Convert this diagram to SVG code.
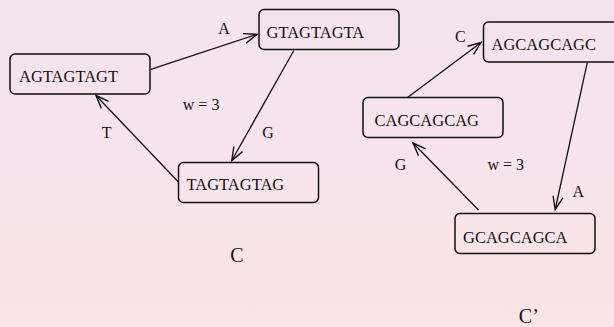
<svg xmlns="http://www.w3.org/2000/svg" width="614" height="327" viewBox="0 0 614 327">
  <style>
    .box { fill: none; stroke: #111; stroke-width: 1.5; }
    .lbl { font-family: "Liberation Serif", "Times New Roman", serif; font-size: 16.5px; fill: #111; }
    .elbl { font-family: "Liberation Serif", "Times New Roman", serif; font-size: 16px; fill: #111; }
    .cap { font-family: "Liberation Serif", "Times New Roman", serif; font-size: 20px; fill: #111; }
    .edge { fill: none; stroke: #111; stroke-width: 1.3; marker-end: url(#open); }
  </style>
  <defs>
    <linearGradient id="bg" x1="0" y1="0" x2="0" y2="1">
      <stop offset="0" stop-color="#f3e4f0"/>
      <stop offset="1" stop-color="#fce4e8"/>
    </linearGradient>
    <marker id="open" markerUnits="userSpaceOnUse" markerWidth="16" markerHeight="12" refX="13" refY="5" orient="auto" overflow="visible">
      <path d="M0,0 L13,5 L0,10" fill="none" stroke="#111" stroke-width="1.4"/>
    </marker>
  </defs>

  <rect x="0" y="0" width="614" height="327" fill="url(#bg)"/>

  <!-- cycle C -->
  <g id="n-agtagtagt">
    <rect class="box" x="10" y="54" width="140" height="40" rx="5"/>
    <text class="lbl" x="19" y="82">AGTAGTAGT</text>
  </g>
  <g id="n-gtagtagta">
    <rect class="box" x="259" y="9.5" width="140" height="40" rx="5"/>
    <text class="lbl" x="266.5" y="37.5">GTAGTAGTA</text>
  </g>
  <g id="n-tagtagtag">
    <rect class="box" x="178.5" y="162.5" width="140" height="40" rx="5"/>
    <text class="lbl" x="186.5" y="189.5">TAGTAGTAG</text>
  </g>

  <!-- cycle C' -->
  <g id="n-agcagcagc">
    <rect class="box" x="483.5" y="22" width="140" height="40" rx="5"/>
    <text class="lbl" x="491.5" y="50">AGCAGCAGC</text>
  </g>
  <g id="n-cagcagcag">
    <rect class="box" x="363" y="97.5" width="140" height="40" rx="5"/>
    <text class="lbl" x="374.5" y="126">CAGCAGCAG</text>
  </g>
  <g id="n-gcagcagca">
    <rect class="box" x="455" y="213.5" width="140" height="40" rx="5"/>
    <text class="lbl" x="463" y="242.5">GCAGCAGCA</text>
  </g>

  <g id="connectors">
    <line class="edge" x1="150.7" y1="69.3" x2="257" y2="34.3"/>
    <line class="edge" x1="293.7" y1="50.7" x2="231.8" y2="160.5"/>
    <line class="edge" x1="178.2" y1="181.7" x2="96" y2="95.5"/>
    <line class="edge" x1="407.2" y1="97.7" x2="481" y2="42.5"/>
    <line class="edge" x1="587.3" y1="62.3" x2="555.2" y2="209.5"/>
    <line class="edge" x1="478.5" y1="210" x2="413" y2="143"/>
  </g>

  <g id="edge-labels">
    <text class="elbl" x="218.3" y="33.5">A</text>
    <text class="elbl" x="262.3" y="138.3">G</text>
    <text class="elbl" x="101.8" y="138.3">T</text>
    <text class="elbl" x="182.8" y="110">w = 3</text>
    <text class="elbl" x="455" y="42.3">C</text>
    <text class="elbl" x="572.4" y="197.3">A</text>
    <text class="elbl" x="394.7" y="170">G</text>
    <text class="elbl" x="487.5" y="170">w = 3</text>
  </g>

  <g id="captions">
    <text class="cap" x="230.2" y="262.3">C</text>
    <text class="cap" x="518.8" y="322.5">C’</text>
  </g>
</svg>
